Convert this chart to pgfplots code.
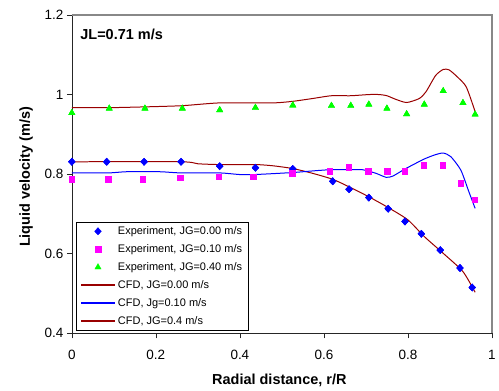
\documentclass[border=0pt]{standalone}
\usepackage{fontspec}
\setmainfont{Liberation Sans}
\usepackage{pgfplots}
\pgfplotsset{compat=1.18}
\definecolor{cfdred}{RGB}{153,0,0}
\definecolor{expblue}{RGB}{0,0,255}
\definecolor{expmag}{RGB}{255,0,255}
\definecolor{expgreen}{RGB}{0,255,0}
\definecolor{bordergray}{RGB}{136,136,136}
\pgfplotstableread{
x y
0 0.831
0.083 0.831
0.172 0.831
0.260 0.831
0.352 0.820
0.437 0.816
0.526 0.813
0.621 0.782
0.660 0.762
0.707 0.741
0.753 0.713
0.793 0.681
0.832 0.650
0.877 0.609
0.924 0.564
0.953 0.515
}\expA
\pgfplotstableread{
x y
0 0.787
0.087 0.787
0.169 0.787
0.258 0.791
0.350 0.794
0.432 0.794
0.524 0.803
0.614 0.808
0.659 0.818
0.705 0.808
0.751 0.808
0.792 0.808
0.838 0.822
0.883 0.823
0.926 0.777
0.959 0.736
}\expB
\pgfplotstableread{
x y
0 0.954
0.089 0.965
0.174 0.965
0.263 0.965
0.352 0.961
0.437 0.967
0.526 0.973
0.618 0.972
0.664 0.972
0.707 0.975
0.750 0.965
0.797 0.951
0.839 0.975
0.884 1.009
0.931 0.979
0.960 0.950
}\expC
\begin{document}
\begin{tikzpicture}
\begin{axis}[
  scale only axis,
  width=421pt, height=319pt,
  xmin=0, xmax=1, ymin=0.4, ymax=1.2,
  xtick={0,0.2,...,1}, ytick={0.4,0.6,...,1.2},
  axis x line*=bottom, axis y line*=left,
  axis line style={black!85, line width=0.6pt},
  tick align=outside, major tick length=5pt,
  tick style={black!85, line width=0.6pt},
  /pgf/number format/assume math mode=true,
  tick label style={font=\fontsize{13.5}{15}\selectfont},
  x tick label style={yshift=-8pt},
  xlabel={\textbf{Radial distance, r/R}},
  ylabel={\textbf{Liquid velocity (m/s)}},
  label style={font=\fontsize{14.5}{17}\selectfont},
  x label style={at={(axis description cs:0.494,-0.1614)}, anchor=base},
  y label style={at={(axis description cs:-0.0998,0.491)}, anchor=base, rotate=0},
  legend image code/.code={\draw[mark repeat=2,mark phase=2,#1] plot coordinates {(0pt,0pt) (16.5pt,0pt) (33pt,0pt)};},
  legend cell align=left,
  legend style={at={(axis description cs:0.0095,0.0094)}, anchor=south west,
    draw=black, inner xsep=5pt, inner ysep=0pt, column sep=2pt,
    font=\fontsize{11}{13}\selectfont,
    nodes={inner xsep=1pt, inner ysep=4pt, text height=8pt, text depth=2pt}},
  clip=false,
]
\draw[bordergray, line width=1.4pt] (rel axis cs:0,1) -- (rel axis cs:1,1) -- (rel axis cs:1,0);
% Experiments (legend entries)
\addplot[only marks, mark=diamond*, mark size=3.6pt, mark options={xscale=1.25}, color=expblue] table {\expA};
\addlegendentry{Experiment, JG=0.00 m/s}
\addplot[only marks, mark=square*, mark size=2.8pt, color=expmag] table {\expB};
\addlegendentry{Experiment, JG=0.10 m/s}
\addplot[only marks, mark=triangle*, mark size=3.6pt, color=expgreen] table {\expC};
\addlegendentry{Experiment, JG=0.40 m/s}
% CFD lines
\addplot[color=cfdred, line width=1pt, smooth, tension=0.4, no marks,
  legend image code/.code={\fill[cfdred] (0pt,-0.55pt) rectangle (33pt,0.55pt);}] coordinates {
(0,0.831) (0.260,0.831) (0.300,0.826) (0.352,0.824) (0.437,0.824) (0.478,0.821)
(0.526,0.814) (0.573,0.802) (0.621,0.787) (0.660,0.768) (0.707,0.743) (0.753,0.716)
(0.800,0.685) (0.839,0.643) (0.884,0.601) (0.931,0.555) (0.960,0.503)};
\addlegendentry{CFD, JG=0.00 m/s}
\addplot[color=expblue, line width=1pt, smooth, tension=0.4, no marks,
  legend image code/.code={\fill[expblue] (0pt,-0.55pt) rectangle (33pt,0.55pt);}] coordinates {
(0,0.803) (0.087,0.803) (0.130,0.806) (0.209,0.806) (0.260,0.803) (0.352,0.803)
(0.399,0.799) (0.437,0.799) (0.526,0.804) (0.573,0.808) (0.614,0.811) (0.659,0.811)
(0.692,0.811) (0.724,0.802) (0.748,0.792) (0.764,0.795) (0.795,0.814) (0.839,0.838)
(0.866,0.849) (0.884,0.853) (0.902,0.844) (0.926,0.810) (0.945,0.756) (0.960,0.714)};
\addlegendentry{CFD, Jg=0.10 m/s}
\addplot[color=cfdred, line width=1pt, smooth, tension=0.4, no marks,
  legend image code/.code={\fill[cfdred] (0pt,-0.55pt) rectangle (33pt,0.55pt);}] coordinates {
(0,0.967) (0.089,0.967) (0.174,0.969) (0.263,0.972) (0.352,0.979) (0.478,0.979)
(0.526,0.983) (0.573,0.990) (0.618,0.997) (0.664,0.997) (0.707,1.000) (0.731,1.000)
(0.750,0.997) (0.771,0.988) (0.797,0.980) (0.827,0.990) (0.843,1.007) (0.866,1.048)
(0.884,1.063) (0.898,1.062) (0.918,1.044) (0.939,1.019) (0.960,0.957)};
\addlegendentry{CFD, JG=0.4 m/s}
% markers redrawn on top of the lines
\addplot[only marks, mark=diamond*, mark size=3.6pt, mark options={xscale=1.25}, color=expblue, forget plot] table {\expA};
\addplot[only marks, mark=square*, mark size=2.8pt, color=expmag, forget plot] table {\expB};
\addplot[only marks, mark=triangle*, mark size=3.6pt, color=expgreen, forget plot] table {\expC};
\node[anchor=west, font=\fontsize{14.5}{16}\selectfont\bfseries] at (rel axis cs:0.012,0.939) {JL=0.71 m/s};
\end{axis}
\path (-72pt,-57pt) rectangle (427pt,334pt);
\end{tikzpicture}
\end{document}
